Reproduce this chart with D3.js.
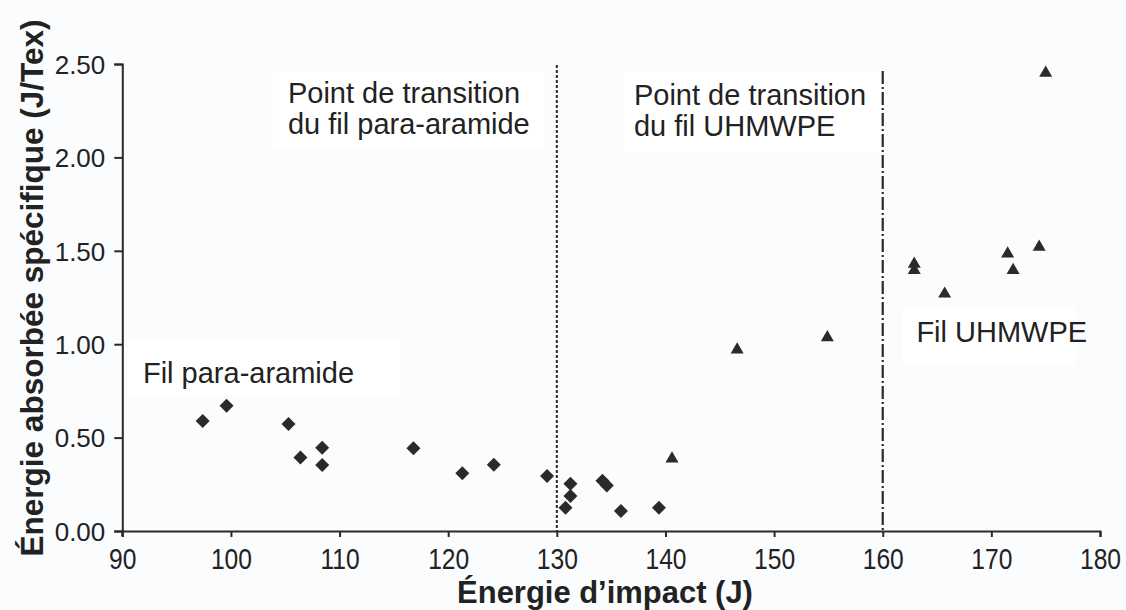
<!DOCTYPE html>
<html><head><meta charset="utf-8">
<script src="https://cdn.jsdelivr.net/npm/d3@7"></script>
<style>
html,body{margin:0;padding:0;background:#fbfcfe;}
svg{display:block;font-family:"Liberation Sans",Arial,sans-serif;}
</style></head>
<body>
<svg id="chart" width="1126" height="610"></svg>
<script>
// Data
const xTicks = [90,100,110,120,130,140,150,160,170,180];
const yTicks = [0,0.5,1.0,1.5,2.0,2.5];
const aramideX = [97.4,99.6,105.3,106.4,108.4,108.4,116.8,121.3,124.2,129.1,131.25,131.25,130.8,134.2,134.6,135.9,139.4];
const aramideY = [0.589,0.671,0.573,0.394,0.446,0.353,0.443,0.309,0.355,0.294,0.253,0.187,0.125,0.269,0.243,0.107,0.125];
const uhmwpeX = [140.6,146.6,154.9,162.9,162.9,165.7,171.5,172.0,174.4,175.0];
const uhmwpeY = [0.39,0.974,1.039,1.433,1.400,1.273,1.488,1.400,1.524,2.455];
const transitions = [130,160];
const labels = [
  {lines:["Point de transition","du fil para-aramide"], x:105.25, y:2.291, box:[273,72,545,148]},
  {lines:["Point de transition","du fil UHMWPE"], x:137.1, y:2.28, box:[623,72,880,152]},
  {lines:["Fil para-aramide"], x:91.9, y:0.79, box:[128,338,400,395]},
  {lines:["Fil UHMWPE"], x:163.1, y:1.01, box:[902,307,1075,365]}
];
const xTitle = "Énergie d’impact (J)";
const yTitle = "Énergie absorbée spécifique (J/Tex)";

const svg = d3.select("#chart");
const ink = "#2a2a2a";
const x = d3.scaleLinear().domain([90,180]).range([122.3,1100]);
const y = d3.scaleLinear().domain([0,2.5]).range([531,64]);

// label boxes
labels.forEach(l=>{
  svg.append("rect").attr("x",l.box[0]).attr("y",l.box[1])
    .attr("width",l.box[2]-l.box[0]).attr("height",l.box[3]-l.box[1]).attr("fill","#ffffff");
});

// transition lines
svg.append("line").attr("x1",x(transitions[0])).attr("x2",x(transitions[0]))
  .attr("y1",65).attr("y2",y(0)).attr("stroke",ink).attr("stroke-width",2)
  .attr("stroke-dasharray","3,2");
svg.append("line").attr("x1",x(transitions[1])).attr("x2",x(transitions[1]))
  .attr("y1",71).attr("y2",y(0)).attr("stroke",ink).attr("stroke-width",2.2)
  .attr("stroke-dasharray","13,3,2,3");

// axes
const xAxis = svg.append("g").attr("transform",`translate(0,${y(0)})`)
  .call(d3.axisBottom(x).tickValues(xTicks).tickSize(6).tickPadding(4).tickFormat(d3.format("d")));
const yAxis = svg.append("g").attr("transform",`translate(${x(90)},0)`)
  .call(d3.axisLeft(y).tickValues(yTicks).tickSize(8).tickPadding(9).tickFormat(d3.format(".2f")));
[xAxis,yAxis].forEach(g=>{
  g.select(".domain").attr("stroke",ink).attr("stroke-width",2);
  g.selectAll(".tick line").attr("stroke",ink).attr("stroke-width",2);
  g.selectAll("text").attr("fill","#222").style("font-family","'Liberation Sans',Arial,sans-serif");
});
// extend y axis slightly below x axis
svg.append("line").attr("x1",x(90)).attr("x2",x(90)).attr("y1",y(0)).attr("y2",y(0)+5)
  .attr("stroke",ink).attr("stroke-width",2);
yAxis.selectAll("text").style("font-size","26px").attr("dy","0.36em");
xAxis.selectAll(".tick text").style("font-size","30px").attr("y",38).attr("dy",0)
  .attr("transform","scale(0.82,1)");

// markers
const diamond = "M0,-7L7,0L0,7L-7,0Z";
const tri = "M0,-6.8L6.5,4.4L-6.5,4.4Z";
svg.append("g").selectAll("path").data(aramideX).join("path")
  .attr("d",diamond).attr("fill",ink)
  .attr("transform",(d,i)=>`translate(${x(d)},${y(aramideY[i])})`);
svg.append("g").selectAll("path").data(uhmwpeX).join("path")
  .attr("d",tri).attr("fill",ink)
  .attr("transform",(d,i)=>`translate(${x(d)},${y(uhmwpeY[i])})`);

// annotation labels
labels.forEach(l=>{
  const t = svg.append("text").attr("x",x(l.x)).attr("y",y(l.y))
    .attr("fill","#222").style("font-size","29px");
  l.lines.forEach((s,i)=>{
    t.append("tspan").attr("x",x(l.x)).attr("dy",i===0?0:31).text(s);
  });
});

// axis titles
const xt = svg.append("text").attr("fill","#222").style("font-size","31px").style("font-weight","bold")
  .attr("text-anchor","middle").text(xTitle);
const xs = 296/xt.node().getComputedTextLength();
xt.attr("transform",`translate(605,603) scale(${xs},1)`);

const yt = svg.append("text").attr("fill","#222").style("font-size","26px").style("font-weight","bold")
  .attr("text-anchor","middle").text(yTitle);
const ylen = yt.node().getComputedTextLength();
yt.style("font-size",(26*537/ylen).toFixed(2)+"px");
yt.attr("transform","translate(43,288) rotate(-90)");
</script>
</body></html>
